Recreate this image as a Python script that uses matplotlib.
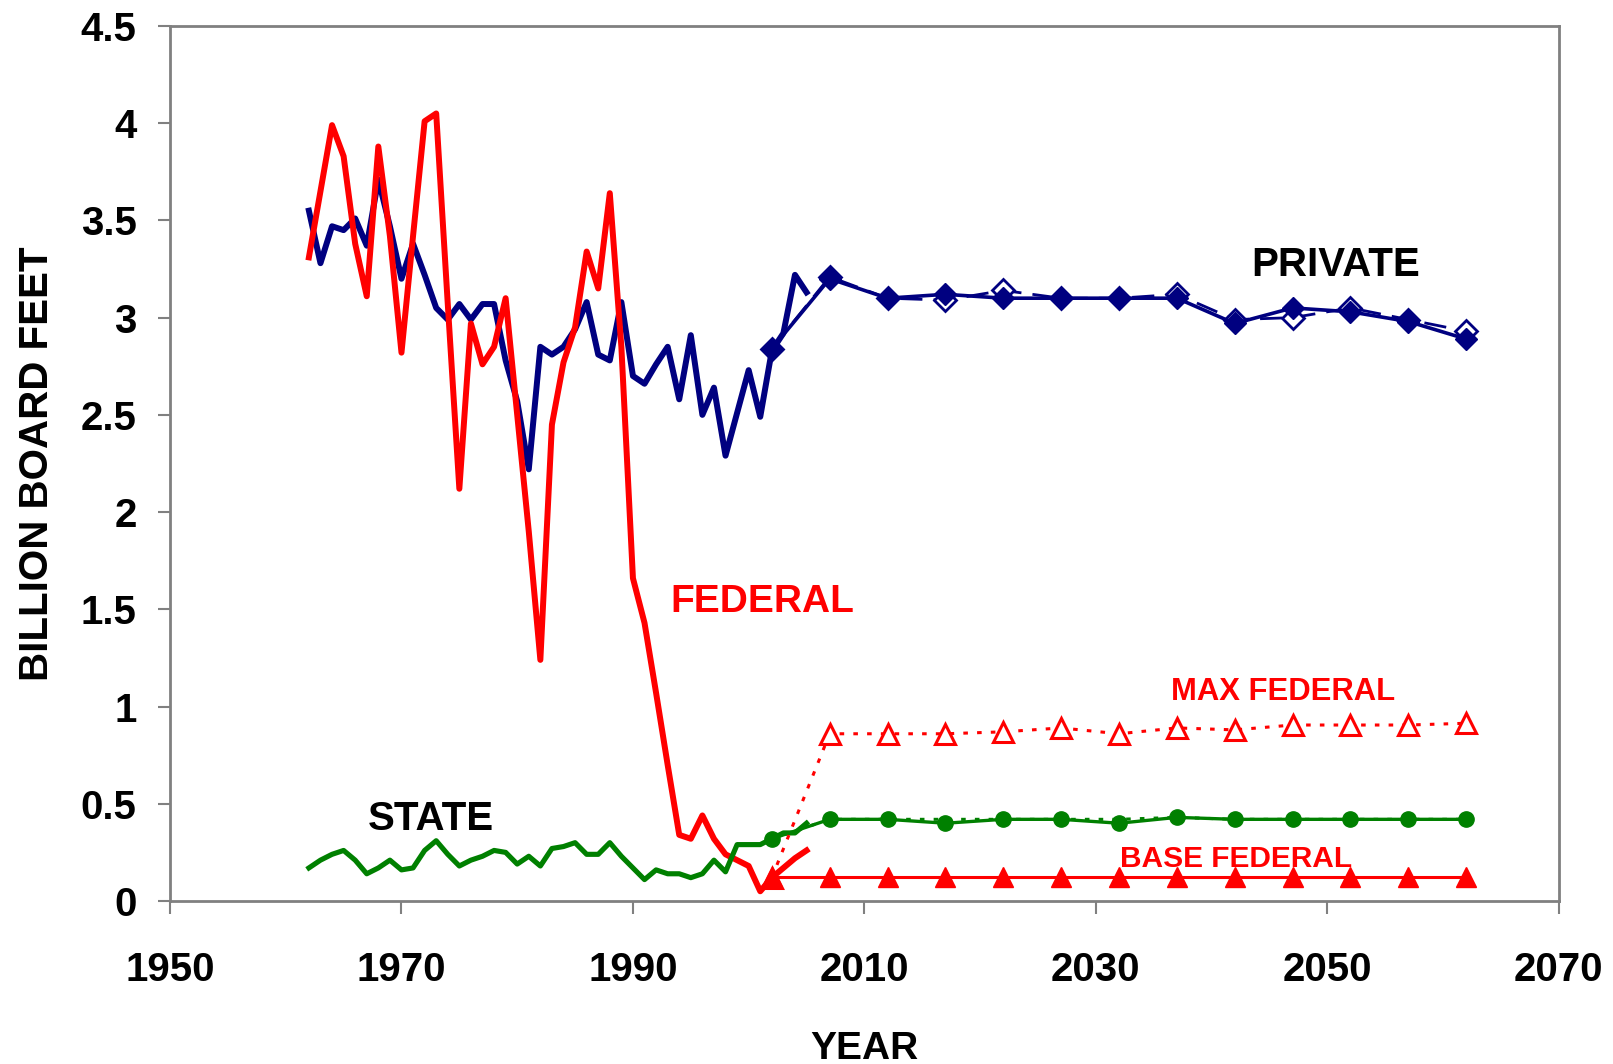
import matplotlib.pyplot as plt

# historical harvest, 1962-2005 (billion board feet)
hist_years = list(range(1962, 2006))
private_hist = [3.55, 3.28, 3.47, 3.45, 3.51, 3.37, 3.71, 3.47, 3.20, 3.38,
                3.22, 3.05, 2.99, 3.07, 2.99, 3.07, 3.07, 2.78, 2.57, 2.22,
                2.85, 2.81, 2.85, 2.94, 3.08, 2.81, 2.78, 3.08, 2.70, 2.66,
                2.76, 2.85, 2.58, 2.91, 2.50, 2.64, 2.29, 2.51, 2.73, 2.49,
                2.83, 2.92, 3.22, 3.13]
federal_hist = [3.31, 3.65, 3.99, 3.83, 3.38, 3.11, 3.88, 3.42, 2.82, 3.42,
                4.01, 4.05, 3.07, 2.12, 2.97, 2.76, 2.85, 3.10, 2.50, 1.90,
                1.24, 2.45, 2.77, 2.95, 3.34, 3.15, 3.64, 2.85, 1.66, 1.43,
                1.07, 0.70, 0.34, 0.32, 0.44, 0.32, 0.24, 0.21, 0.18, 0.05,
                0.12, 0.17, 0.22, 0.26]
state_hist = [0.17, 0.21, 0.24, 0.26, 0.21, 0.14, 0.17, 0.21, 0.16, 0.17,
              0.26, 0.31, 0.24, 0.18, 0.21, 0.23, 0.26, 0.25, 0.19, 0.23,
              0.18, 0.27, 0.28, 0.30, 0.24, 0.24, 0.30, 0.23, 0.17, 0.11,
              0.16, 0.14, 0.14, 0.12, 0.14, 0.21, 0.15, 0.29, 0.29, 0.29,
              0.32, 0.35, 0.35, 0.40]

# projections, every 5 years
proj_years = [2002, 2007, 2012, 2017, 2022, 2027, 2032, 2037, 2042, 2047, 2052, 2057, 2062]
private_base = [2.84, 3.20, 3.10, 3.12, 3.10, 3.10, 3.10, 3.10, 2.97, 3.05, 3.03, 2.98, 2.89]
private_max = [2.84, 3.21, 3.10, 3.09, 3.14, 3.10, 3.10, 3.12, 2.99, 3.00, 3.05, 2.99, 2.93]
state_base = [0.32, 0.42, 0.42, 0.40, 0.42, 0.42, 0.40, 0.43, 0.42, 0.42, 0.42, 0.42, 0.42]
state_max = [0.32, 0.42, 0.42, 0.42, 0.42, 0.42, 0.42, 0.43, 0.42, 0.42, 0.42, 0.42, 0.42]
federal_base = [0.125, 0.125, 0.125, 0.125, 0.125, 0.125, 0.125, 0.125, 0.125, 0.125, 0.125, 0.125, 0.125]
federal_max = [0.12, 0.86, 0.86, 0.86, 0.87, 0.89, 0.86, 0.89, 0.88, 0.905, 0.905, 0.905, 0.914]

navy = '#000080'
red = '#FF0000'
green = '#008000'

plt.rcParams['font.family'] = ['Liberation Sans', 'DejaVu Sans']
plt.rcParams['font.weight'] = 'bold'

fig = plt.figure(figsize=(16.13, 10.64), dpi=100)
ax = fig.add_axes([0.1054, 0.1532, 0.861, 0.8224])

# historical
ax.plot(hist_years, private_hist, color=navy, lw=4.3, zorder=3)
ax.plot(hist_years, federal_hist, color=red, lw=4.3, zorder=4)
ax.plot(hist_years, state_hist, color=green, lw=3.7, zorder=4)

# projections
ax.plot(proj_years, private_max, color=navy, lw=2, dashes=(8, 4),
        marker='D', ms=11, mfc='white', mec=navy, mew=2, zorder=5)
ax.plot(proj_years, private_base, color=navy, lw=2.6,
        marker='D', ms=11, mfc=navy, mec=navy, zorder=5)
ax.plot(proj_years, state_max, color=green, lw=2.2, dashes=(1.5, 3), zorder=5)
ax.plot(proj_years, state_base, color=green, lw=2.4,
        marker='o', ms=11, mfc=green, mec=green, zorder=5)
ax.plot(proj_years, federal_max, color=red, lw=2.2, dashes=(1.5, 3),
        marker='^', ms=14, mfc='white', mec=red, mew=2.2, zorder=5)
ax.plot(proj_years, federal_base, color=red, lw=2.2,
        marker='^', ms=14, mfc=red, mec=red, zorder=5)

# series labels
ax.text(2050.7, 3.27, 'PRIVATE', color='black', fontsize=29, fontweight='bold',
        ha='center', va='center')
ax.text(2001.2, 1.54, 'FEDERAL', color=red, fontsize=28, fontweight='bold',
        ha='center', va='center')
ax.text(1972.5, 0.42, 'STATE', color='black', fontsize=29, fontweight='bold',
        ha='center', va='center')
ax.text(2046.2, 1.075, 'MAX FEDERAL', color=red, fontsize=22.3, fontweight='bold',
        ha='center', va='center')
ax.text(2042.1, 0.216, 'BASE FEDERAL', color=red, fontsize=21.5, fontweight='bold',
        ha='center', va='center')

ax.set_xlim(1950, 2070)
ax.set_ylim(0, 4.5)
ax.set_xticks([1950, 1970, 1990, 2010, 2030, 2050, 2070])
ax.set_yticks([0, 0.5, 1, 1.5, 2, 2.5, 3, 3.5, 4, 4.5])
ax.set_yticklabels(['0', '0.5', '1', '1.5', '2', '2.5', '3', '3.5', '4', '4.5'])
ax.tick_params(axis='both', labelsize=29, length=9, width=1.5, color='#808080',
               direction='out')
ax.tick_params(axis='x', pad=27)
ax.tick_params(axis='y', pad=15)
for lab in ax.get_xticklabels() + ax.get_yticklabels():
    lab.set_fontweight('bold')

for side in ['left', 'right', 'top', 'bottom']:
    ax.spines[side].set_color('#808080')
    ax.spines[side].set_linewidth(2)

ax.set_xlabel('YEAR', fontsize=28, fontweight='bold', labelpad=30)
ax.set_ylabel('BILLION BOARD FEET', fontsize=29, fontweight='bold', labelpad=18)

fig.savefig('out.png', dpi=100)
